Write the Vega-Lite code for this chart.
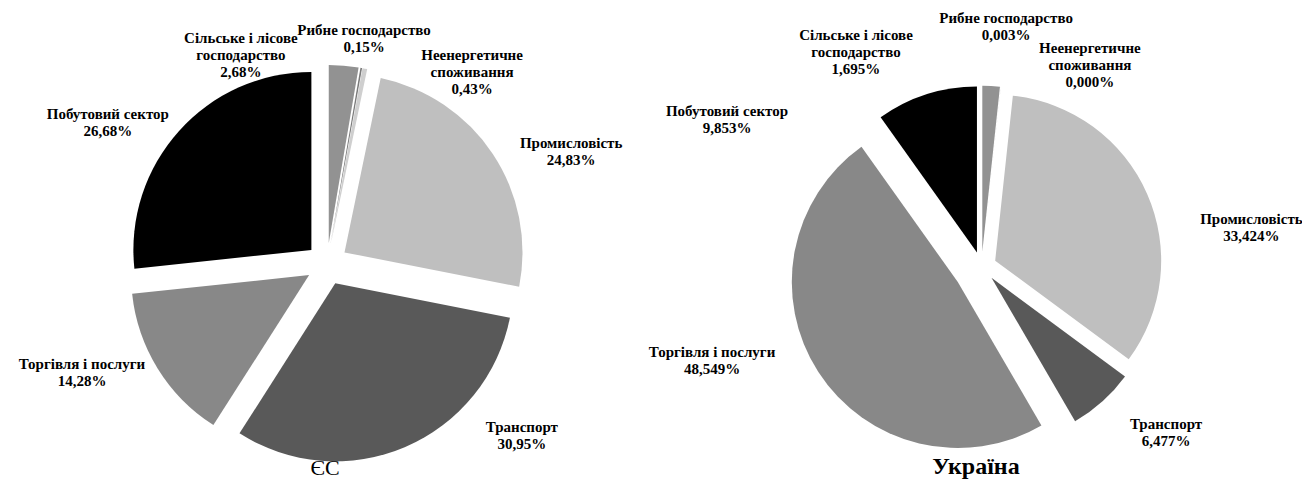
{
  "$schema": "https://vega.github.io/schema/vega-lite/v6.json",
  "padding": 0,
  "bounds": "flush",
  "background": "white",
  "spacing": 0,
  "config": {
    "view": {"stroke": null},
    "text": {"font": "Liberation Serif", "fontSize": 15, "fontWeight": "bold", "lineBreak": "\n", "lineHeight": 17, "align": "center", "baseline": "middle", "color": "#000000"}
  },
  "resolve": {"scale": {"x": "independent", "y": "independent", "theta": "independent"}},
  "data": {
    "values": [
      {"region": "ЄС", "sector": "Сільське і лісове господарство", "value": 2.68, "label": "Сільське і лісове\nгосподарство\n2,68%"},
      {"region": "ЄС", "sector": "Рибне господарство", "value": 0.15, "label": "Рибне господарство\n0,15%"},
      {"region": "ЄС", "sector": "Неенергетичне споживання", "value": 0.43, "label": "Неенергетичне\nспоживання\n0,43%"},
      {"region": "ЄС", "sector": "Промисловість", "value": 24.83, "label": "Промисловість\n24,83%"},
      {"region": "ЄС", "sector": "Транспорт", "value": 30.95, "label": "Транспорт\n30,95%"},
      {"region": "ЄС", "sector": "Торгівля і послуги", "value": 14.28, "label": "Торгівля і послуги\n14,28%"},
      {"region": "ЄС", "sector": "Побутовий сектор", "value": 26.68, "label": "Побутовий сектор\n26,68%"},
      {"region": "Україна", "sector": "Сільське і лісове господарство", "value": 1.695, "label": "Сільське і лісове\nгосподарство\n1,695%"},
      {"region": "Україна", "sector": "Рибне господарство", "value": 0.003, "label": "Рибне господарство\n0,003%"},
      {"region": "Україна", "sector": "Неенергетичне споживання", "value": 0.0, "label": "Неенергетичне\nспоживання\n0,000%"},
      {"region": "Україна", "sector": "Промисловість", "value": 33.424, "label": "Промисловість\n33,424%"},
      {"region": "Україна", "sector": "Транспорт", "value": 6.477, "label": "Транспорт\n6,477%"},
      {"region": "Україна", "sector": "Торгівля і послуги", "value": 48.549, "label": "Торгівля і послуги\n48,549%"},
      {"region": "Україна", "sector": "Побутовий сектор", "value": 9.853, "label": "Побутовий сектор\n9,853%"}
    ]
  },
  "hconcat": [
    {
      "width": 650,
      "height": 480,
      "title": {"text": "ЄС", "orient": "bottom", "font": "Liberation Serif", "fontSize": 22, "fontWeight": "normal", "baseline": "alphabetic", "offset": -5, "color": "#000000"},
      "transform": [
        {"filter": "datum.region === 'ЄС'"},
        {"stack": "value", "groupby": [], "as": ["v0", "v1"], "offset": "normalize"},
        {"calculate": "(datum.v0 + datum.v1) / 2", "as": "mid"},
        {"calculate": "0.118", "as": "explode"},
        {"calculate": "datum.explode * sin(2 * PI * datum.mid)", "as": "ex"},
        {"calculate": "datum.explode * cos(2 * PI * datum.mid)", "as": "ey"}
      ],
      "encoding": {
        "theta": {"field": "mid", "type": "quantitative", "scale": {"domain": [0, 1]}}
      },
      "layer": [
        {
          "mark": {"type": "arc", "outerRadius": 178},
          "encoding": {
            "theta": {"field": "v0", "type": "quantitative", "scale": {"domain": [0, 1]}},
            "theta2": {"field": "v1"},
            "x": {"field": "ex", "type": "quantitative", "scale": {"domain": [-1.8371, 1.8146], "nice": false, "zero": false}, "axis": null},
            "y": {"field": "ey", "type": "quantitative", "scale": {"domain": [-1.2135, 1.4831], "nice": false, "zero": false}, "axis": null},
            "color": {"field": "sector", "type": "nominal", "legend": null,
              "scale": {"domain": ["Сільське і лісове господарство", "Рибне господарство", "Неенергетичне споживання", "Промисловість", "Транспорт", "Торгівля і послуги", "Побутовий сектор"],
                        "range": ["#929292", "#7a7a7a", "#cfcfcf", "#bfbfbf", "#595959", "#888888", "#000000"]}}
          }
        },
        {"transform": [{"filter": "datum.sector === 'Сільське і лісове господарство'"}], "mark": {"type": "text", "radius": 201, "dx": -103, "dy": -26}, "encoding": {"x": {"datum": 0, "type": "quantitative"}, "y": {"datum": 0, "type": "quantitative"}, "text": {"field": "label", "type": "nominal"}}},
        {"transform": [{"filter": "datum.sector === 'Рибне господарство'"}], "mark": {"type": "text", "radius": 229.5, "dx": -2.5, "dy": -7.5}, "encoding": {"x": {"datum": 0, "type": "quantitative"}, "y": {"datum": 0, "type": "quantitative"}, "text": {"field": "label", "type": "nominal"}}},
        {"transform": [{"filter": "datum.sector === 'Неенергетичне споживання'"}], "mark": {"type": "text", "radius": 216, "dx": 104, "dy": 3}, "encoding": {"x": {"datum": 0, "type": "quantitative"}, "y": {"datum": 0, "type": "quantitative"}, "text": {"field": "label", "type": "nominal"}}},
        {"transform": [{"filter": "datum.sector === 'Побутовий сектор'"}], "mark": {"type": "text", "radius": 258.5, "dx": -27, "dy": 22.5}, "encoding": {"x": {"datum": 0, "type": "quantitative"}, "y": {"datum": 0, "type": "quantitative"}, "text": {"field": "label", "type": "nominal"}}},
        {"transform": [{"filter": "datum.sector === 'Промисловість'"}], "mark": {"type": "text", "radius": 266, "dx": 22.5, "dy": 26.5}, "encoding": {"x": {"datum": 0, "type": "quantitative"}, "y": {"datum": 0, "type": "quantitative"}, "text": {"field": "label", "type": "nominal"}}},
        {"transform": [{"filter": "datum.sector === 'Торгівля і послуги'"}], "mark": {"type": "text", "radius": 264.6, "dx": -20, "dy": -39.5}, "encoding": {"x": {"datum": 0, "type": "quantitative"}, "y": {"datum": 0, "type": "quantitative"}, "text": {"field": "label", "type": "nominal"}}},
        {"transform": [{"filter": "datum.sector === 'Транспорт'"}], "mark": {"type": "text", "radius": 233.5, "dx": 103, "dy": -52}, "encoding": {"x": {"datum": 0, "type": "quantitative"}, "y": {"datum": 0, "type": "quantitative"}, "text": {"field": "label", "type": "nominal"}}}
      ]
    },
    {
      "width": 652,
      "height": 480,
      "title": {"text": "Україна", "orient": "bottom", "font": "Liberation Serif", "fontSize": 24, "fontWeight": "bold", "baseline": "alphabetic", "offset": -6, "color": "#000000"},
      "transform": [
        {"filter": "datum.region === 'Україна'"},
        {"stack": "value", "groupby": [], "as": ["v0", "v1"], "offset": "normalize"},
        {"calculate": "(datum.v0 + datum.v1) / 2", "as": "mid"},
        {"calculate": "datum.sector === 'Торгівля і послуги' ? 0.17 : 0.09", "as": "explode"},
        {"calculate": "datum.explode * sin(2 * PI * datum.mid)", "as": "ex"},
        {"calculate": "datum.explode * cos(2 * PI * datum.mid)", "as": "ey"}
      ],
      "encoding": {
        "theta": {"field": "mid", "type": "quantitative", "scale": {"domain": [0, 1]}}
      },
      "layer": [
        {
          "mark": {"type": "arc", "outerRadius": 166},
          "encoding": {
            "theta": {"field": "v0", "type": "quantitative", "scale": {"domain": [0, 1]}},
            "theta2": {"field": "v1"},
            "x": {"field": "ex", "type": "quantitative", "scale": {"domain": [-1.997, 1.9307], "nice": false, "zero": false}, "axis": null},
            "y": {"field": "ey", "type": "quantitative", "scale": {"domain": [-1.2849, 1.6066], "nice": false, "zero": false}, "axis": null},
            "color": {"field": "sector", "type": "nominal", "legend": null,
              "scale": {"domain": ["Сільське і лісове господарство", "Рибне господарство", "Неенергетичне споживання", "Промисловість", "Транспорт", "Торгівля і послуги", "Побутовий сектор"],
                        "range": ["#929292", "#7a7a7a", "#cfcfcf", "#bfbfbf", "#595959", "#888888", "#000000"]}}
          }
        },
        {"transform": [{"filter": "datum.sector === 'Сільське і лісове господарство'"}], "mark": {"type": "text", "radius": 206.5, "dx": -136.5, "dy": -25}, "encoding": {"x": {"datum": 0, "type": "quantitative"}, "y": {"datum": 0, "type": "quantitative"}, "text": {"field": "label", "type": "nominal"}}},
        {"transform": [{"filter": "datum.sector === 'Рибне господарство'"}], "mark": {"type": "text", "radius": 240.4, "dx": -1, "dy": -9.5}, "encoding": {"x": {"datum": 0, "type": "quantitative"}, "y": {"datum": 0, "type": "quantitative"}, "text": {"field": "label", "type": "nominal"}}},
        {"transform": [{"filter": "datum.sector === 'Неенергетичне споживання'"}], "mark": {"type": "text", "radius": 210.5, "dx": 86, "dy": -9}, "encoding": {"x": {"datum": 0, "type": "quantitative"}, "y": {"datum": 0, "type": "quantitative"}, "text": {"field": "label", "type": "nominal"}}},
        {"transform": [{"filter": "datum.sector === 'Побутовий сектор'"}], "mark": {"type": "text", "radius": 216.6, "dx": -188.5, "dy": 51}, "encoding": {"x": {"datum": 0, "type": "quantitative"}, "y": {"datum": 0, "type": "quantitative"}, "text": {"field": "label", "type": "nominal"}}},
        {"transform": [{"filter": "datum.sector === 'Промисловість'"}], "mark": {"type": "text", "radius": 256.6, "dx": 35, "dy": 56}, "encoding": {"x": {"datum": 0, "type": "quantitative"}, "y": {"datum": 0, "type": "quantitative"}, "text": {"field": "label", "type": "nominal"}}},
        {"transform": [{"filter": "datum.sector === 'Торгівля і послуги'"}], "mark": {"type": "text", "radius": 277.4, "dx": -36.4, "dy": -65.5}, "encoding": {"x": {"datum": 0, "type": "quantitative"}, "y": {"datum": 0, "type": "quantitative"}, "text": {"field": "label", "type": "nominal"}}},
        {"transform": [{"filter": "datum.sector === 'Транспорт'"}], "mark": {"type": "text", "radius": 246.8, "dx": 19.7, "dy": -26.7}, "encoding": {"x": {"datum": 0, "type": "quantitative"}, "y": {"datum": 0, "type": "quantitative"}, "text": {"field": "label", "type": "nominal"}}}
      ]
    }
  ]
}
